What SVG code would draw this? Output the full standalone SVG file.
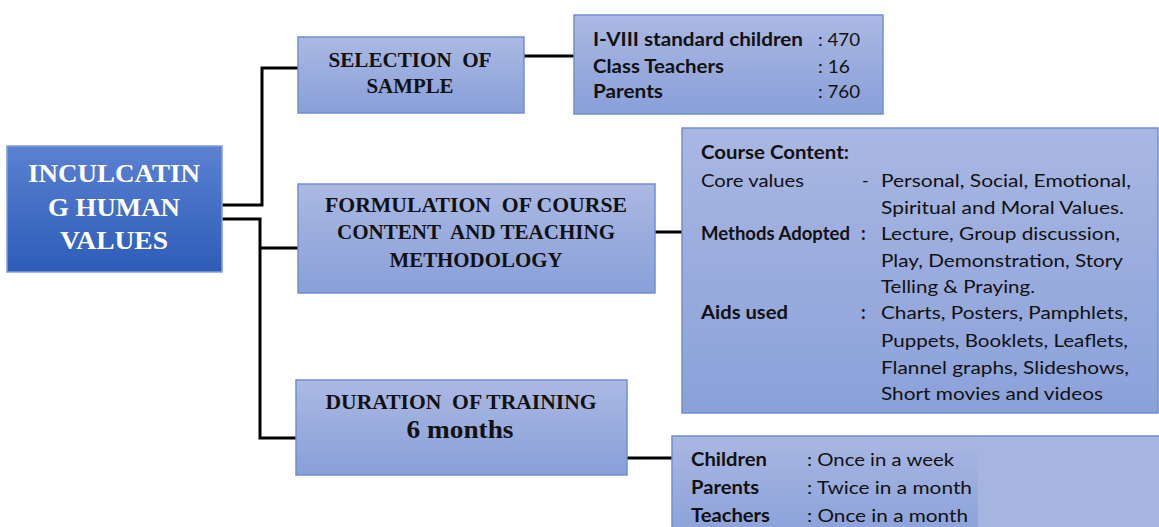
<svg xmlns="http://www.w3.org/2000/svg" width="1159" height="527" viewBox="0 0 1159 527">
<defs>
<linearGradient id="gMain" x1="0" y1="0" x2="0" y2="1"><stop offset="0" stop-color="#5b81d1"/><stop offset="1" stop-color="#2d5cb8"/></linearGradient>
<linearGradient id="gBox" x1="0" y1="0" x2="0" y2="1"><stop offset="0" stop-color="#abb9e3"/><stop offset="1" stop-color="#889fd8"/></linearGradient>
<linearGradient id="gBig" x1="0" y1="0" x2="0" y2="1"><stop offset="0" stop-color="#a9b7e2"/><stop offset="1" stop-color="#8aa1d9"/></linearGradient>
<style>
.main{fill:url(#gMain);stroke:#7f9fdc;stroke-width:1.5}
.box{fill:url(#gBox);stroke:#6f8fd2;stroke-width:1.5}
.big{fill:url(#gBig);stroke:#6f8fd2;stroke-width:1.5}
.conn{fill:none;stroke:#000;stroke-width:3}
.ttl{font-family:"Liberation Serif",serif;font-weight:bold;fill:#fff;font-size:26px;text-anchor:middle}
.hd{font-family:"Liberation Serif",serif;font-weight:bold;fill:#111;font-size:20px;text-anchor:middle;white-space:pre}
.b{font-family:Lato,"Liberation Sans",sans-serif;font-weight:bold;fill:#111;font-size:18px}
.r{font-family:Lato,"Liberation Sans",sans-serif;fill:#111;font-size:18px}
</style>
</defs>
<g id="connectors">
<path class="conn" d="M222,205 H262 V68 H298"/>
<path class="conn" d="M222,219 H260 V438 H296"/>
<path class="conn" d="M260,248 H298"/>
<path class="conn" d="M524,56 H574"/>
<path class="conn" d="M655,232 H682"/>
<path class="conn" d="M627,458 H673"/>
</g>
<g id="main">
<rect class="main" x="7" y="146" width="215" height="126"/>
<text class="ttl" x="114" y="182" textLength="172" lengthAdjust="spacingAndGlyphs">INCULCATIN</text>
<text class="ttl" x="114" y="216" textLength="132" lengthAdjust="spacingAndGlyphs">G HUMAN</text>
<text class="ttl" x="114" y="249" textLength="108" lengthAdjust="spacingAndGlyphs">VALUES</text>
</g>
<g id="selection">
<rect class="box" x="298" y="37" width="226" height="76"/>
<text class="hd" x="410" y="67" xml:space="preserve" textLength="163" lengthAdjust="spacingAndGlyphs">SELECTION  OF</text>
<text class="hd" x="410" y="93" textLength="87" lengthAdjust="spacingAndGlyphs">SAMPLE</text>
</g>
<g id="sample-data">
<rect class="box" x="574" y="15" width="309" height="99"/>
<text class="b" x="593" y="46" textLength="210" lengthAdjust="spacingAndGlyphs">I-VIII standard children</text>
<text class="r" x="818" y="46" textLength="42" lengthAdjust="spacingAndGlyphs">: 470</text>
<text class="b" x="593" y="73" textLength="131" lengthAdjust="spacingAndGlyphs">Class Teachers</text>
<text class="r" x="818" y="73" textLength="32" lengthAdjust="spacingAndGlyphs">: 16</text>
<text class="b" x="593" y="98" textLength="70" lengthAdjust="spacingAndGlyphs">Parents</text>
<text class="r" x="818" y="98" textLength="42" lengthAdjust="spacingAndGlyphs">: 760</text>
</g>
<g id="formulation">
<rect class="box" x="298" y="184" width="357" height="109"/>
<text class="hd" x="476" y="212" xml:space="preserve" textLength="302" lengthAdjust="spacingAndGlyphs">FORMULATION  OF COURSE</text>
<text class="hd" x="476" y="239" xml:space="preserve" textLength="278" lengthAdjust="spacingAndGlyphs">CONTENT  AND TEACHING</text>
<text class="hd" x="476" y="267" textLength="173" lengthAdjust="spacingAndGlyphs">METHODOLOGY</text>
</g>
<g id="course-content">
<rect class="big" x="682" y="128" width="476" height="285"/>
<text class="b" x="701" y="159" textLength="148" lengthAdjust="spacingAndGlyphs">Course Content:</text>
<text class="r" x="701" y="187" textLength="103" lengthAdjust="spacingAndGlyphs">Core values</text>
<text class="r" x="862" y="187">-</text>
<text class="r" x="881" y="187" textLength="250" lengthAdjust="spacingAndGlyphs">Personal, Social, Emotional,</text>
<text class="r" x="881" y="214" textLength="243" lengthAdjust="spacingAndGlyphs">Spiritual and Moral Values.</text>
<text class="b" x="701" y="240" textLength="149" lengthAdjust="spacingAndGlyphs">Methods Adopted</text>
<text class="b" x="861" y="240">:</text>
<text class="r" x="881" y="240" textLength="239" lengthAdjust="spacingAndGlyphs">Lecture, Group discussion,</text>
<text class="r" x="881" y="267" textLength="242" lengthAdjust="spacingAndGlyphs">Play, Demonstration, Story</text>
<text class="r" x="881" y="293" textLength="154" lengthAdjust="spacingAndGlyphs">Telling &amp; Praying.</text>
<text class="b" x="701" y="319" textLength="87" lengthAdjust="spacingAndGlyphs">Aids used</text>
<text class="b" x="861" y="319">:</text>
<text class="r" x="881" y="319" textLength="247" lengthAdjust="spacingAndGlyphs">Charts, Posters, Pamphlets,</text>
<text class="r" x="881" y="347" textLength="247" lengthAdjust="spacingAndGlyphs">Puppets, Booklets, Leaflets,</text>
<text class="r" x="881" y="374" textLength="248" lengthAdjust="spacingAndGlyphs">Flannel graphs, Slideshows,</text>
<text class="r" x="881" y="400" textLength="222" lengthAdjust="spacingAndGlyphs">Short movies and videos</text>
</g>
<g id="duration">
<rect class="box" x="296" y="380" width="331" height="95"/>
<text class="hd" x="461" y="409" xml:space="preserve" textLength="271" lengthAdjust="spacingAndGlyphs">DURATION  OF TRAINING</text>
<text class="hd" x="460" y="438" style="font-size:25px" textLength="107" lengthAdjust="spacingAndGlyphs">6 months</text>
</g>
<g id="frequency">
<rect class="big" x="672" y="436" width="490" height="100"/>
<rect x="978" y="437" width="181" height="90" fill="#a6b4e0"/>
<text class="b" x="691" y="466" textLength="76" lengthAdjust="spacingAndGlyphs">Children</text>
<text class="r" x="807" y="466" textLength="147" lengthAdjust="spacingAndGlyphs">: Once in a week</text>
<text class="b" x="691" y="494" textLength="68" lengthAdjust="spacingAndGlyphs">Parents</text>
<text class="r" x="807" y="494" textLength="165" lengthAdjust="spacingAndGlyphs">: Twice in a month</text>
<text class="b" x="691" y="522" textLength="79" lengthAdjust="spacingAndGlyphs">Teachers</text>
<text class="r" x="807" y="522" textLength="161" lengthAdjust="spacingAndGlyphs">: Once in a month</text>
</g>
</svg>
